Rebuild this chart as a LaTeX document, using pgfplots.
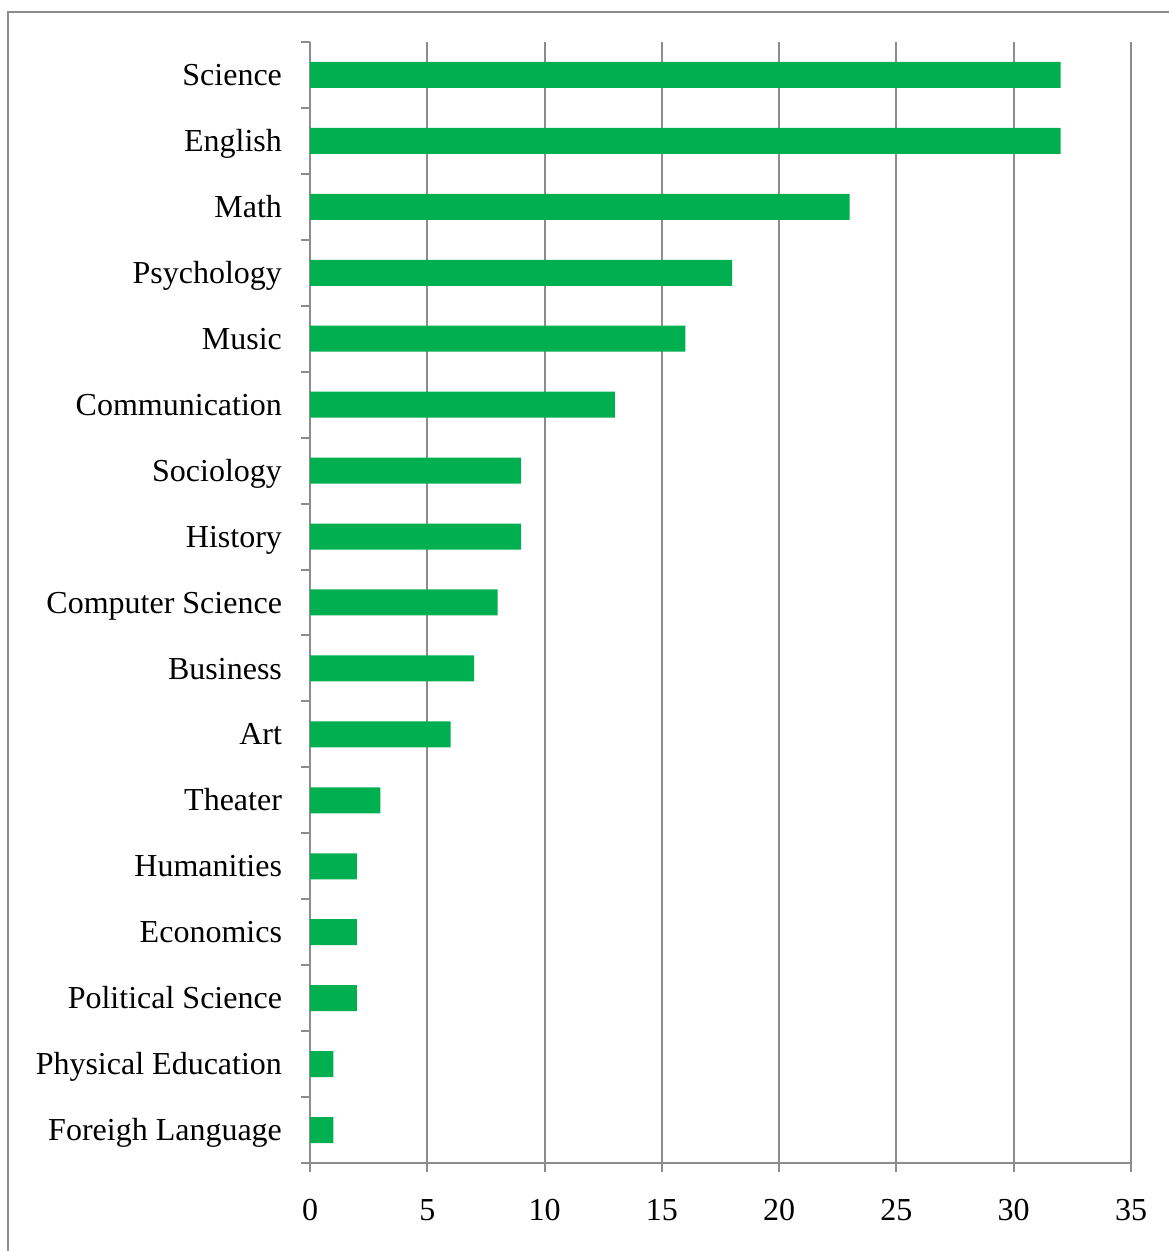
\documentclass[border=0pt]{standalone}
\usepackage{pgfplots}
\pgfplotsset{compat=1.18}
\usepackage{fontspec}
\setmainfont{Liberation Serif}
\definecolor{barg}{HTML}{00B050}
\definecolor{gridg}{HTML}{8C8C8C}
\begin{document}
\begin{tikzpicture}
\useasboundingbox (0,0) rectangle (584pt,625.5pt);
\draw[gridg, line width=1pt] (4pt,-20pt) -- (4pt,619.5pt) -- (620pt,619.5pt);
\begin{axis}[
  at={(155pt,44pt)}, anchor=south west,
  scale only axis, width=410.5pt, height=560.5pt,
  xmin=0, xmax=35, ymin=-0.5, ymax=16.5,
  xtick={0,5,...,35},
  ytick={-0.5,0.5,...,16.5},
  yticklabels={,,,,,,,,,,,,,,,,,},
  extra y ticks={0,...,16},
  extra y tick labels={Foreigh Language,Physical Education,Political Science,Economics,Humanities,Theater,Art,Business,Computer Science,History,Sociology,Communication,Music,Psychology,Math,English,Science},
  extra y tick style={major tick length=0pt},
  axis x line*=bottom, axis y line*=left,
  axis line style={gridg, line width=1pt},
  tick align=outside,
  major tick length=4.5pt,
  tick style={gridg, line width=1pt},
  xmajorgrids, major grid style={gridg, line width=1pt},
  tick label style={font=\fontsize{16pt}{19pt}\selectfont, text=black},
  /pgf/number format/assume math mode=true,
  xticklabel style={yshift=-10pt, text height=10.6pt, text depth=0pt},
  yticklabel style={xshift=-10.5pt, text height=10.6pt, text depth=0pt},
  clip=false,
]
\addplot[xbar, bar width=13pt, fill=barg, draw=none] coordinates {
(1,0) (1,1) (2,2) (2,3) (2,4) (3,5) (6,6) (7,7) (8,8) (9,9) (9,10) (13,11) (16,12) (18,13) (23,14) (32,15) (32,16)
};
\end{axis}
\end{tikzpicture}
\end{document}
